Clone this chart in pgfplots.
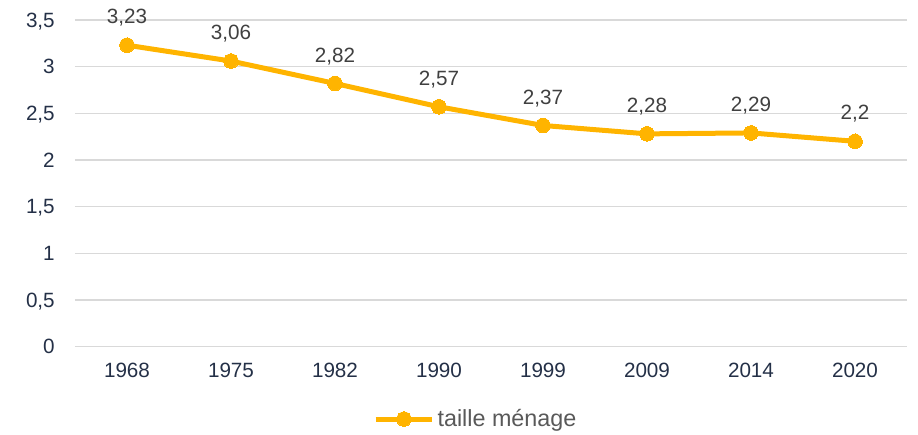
\documentclass[border=0pt]{standalone}
\usepackage{fontspec}
\setmainfont{Liberation Sans}
\usepackage{pgfplots}
\pgfplotsset{compat=1.18}
\definecolor{linegold}{HTML}{FFB400}
\definecolor{gridgray}{HTML}{D9D9D9}
\definecolor{ticknavy}{HTML}{243047}
\definecolor{labelgray}{HTML}{404040}
\definecolor{leggray}{HTML}{595959}

\begin{document}
\begin{tikzpicture}[x=1pt,y=1pt]
\begin{axis}[
  name=ax,
  scale only axis,
  width=624pt,
  height=245pt,
  xmin=-0.5, xmax=7.5,
  ymin=0, ymax=3.5,
  xtick={0,...,7},
  xticklabels={1968,1975,1982,1990,1999,2009,2014,2020},
  ytick={0,0.5,...,3.5},
  axis line style={draw=none},
  tick style={draw=none},
  ymajorgrids,
  grid style={gridgray, line width=0.9pt},
  /pgf/number format/assume math mode=true,
  /pgf/number format/use comma,
  /pgf/number format/fixed,
  ticklabel style={font=\fontsize{15.5}{18}\selectfont, text=ticknavy, inner sep=0pt},
  yticklabel style={anchor=base east, xshift=-15pt, yshift=-5.5pt},
  xticklabel style={anchor=base, yshift=-23.2pt},
  nodes near coords,
  every node near coord/.append style={font=\fontsize{15.5}{18}\selectfont, text=labelgray, anchor=base, inner sep=0pt, yshift=16pt},
  legend style={at={(0.482,-0.2216)}, anchor=center, draw=none, fill=none,
    font=\fontsize{17.5}{20}\selectfont, text=leggray, inner sep=0pt},
  legend image code/.code={\draw[#1,mark repeat=2,mark phase=2] plot coordinates {(0cm,0cm) (0.75cm,0cm) (1.5cm,0cm)};},
]
\addplot[color=linegold, line width=3.75pt, mark=*, mark size=5.5pt,
  mark options={line width=0pt, fill=linegold}] coordinates {
  (0,3.23) (1,3.06) (2,2.82) (3,2.57) (4,2.37) (5,2.28) (6,2.29) (7,2.2)
};
\addlegendentry{taille ménage}
\end{axis}
\path[use as bounding box] ([shift={(-56.25pt,-66.2pt)}]ax.south west) rectangle ([shift={(8.25pt,15pt)}]ax.north east);
\end{tikzpicture}
\end{document}
